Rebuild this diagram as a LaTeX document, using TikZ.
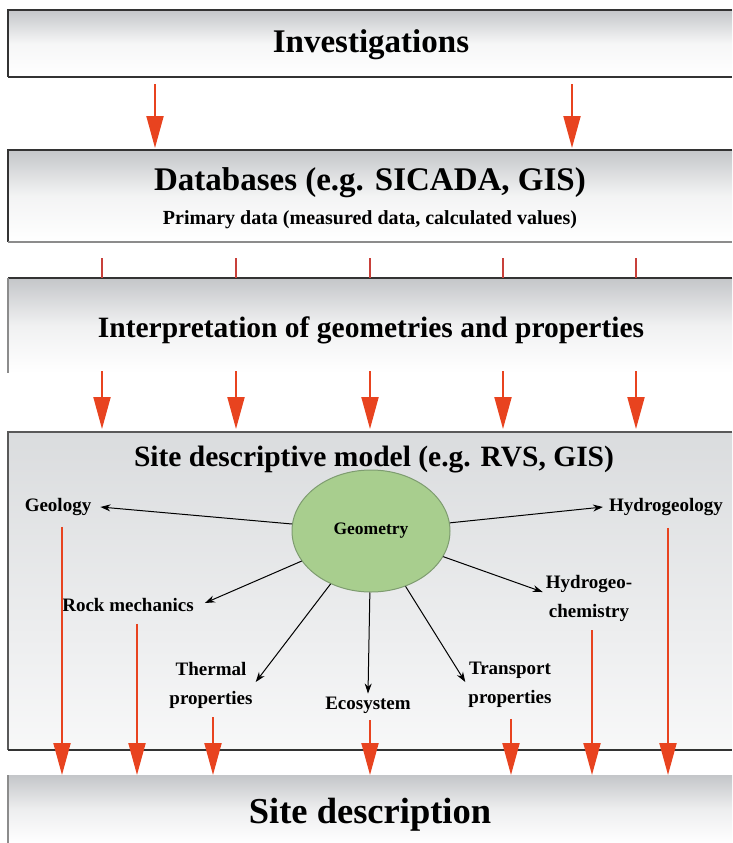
\documentclass[tikz,border=0pt]{standalone}
\usepackage{fontspec}
\setmainfont{Liberation Serif}
\usetikzlibrary{arrows.meta,shapes.geometric}
\definecolor{arrred}{HTML}{E8431F}
\definecolor{tickred}{HTML}{C8403A}
\definecolor{bandgray}{HTML}{C4C6C9}
\definecolor{lightband}{HTML}{DADCDE}
\definecolor{ellfill}{HTML}{A8CE8E}
\definecolor{elldraw}{HTML}{7E9C70}
\begin{document}
\begin{tikzpicture}[x=1pt,y=-1pt,
  band/.style={inner sep=0pt, outer sep=0pt, anchor=north west, minimum width=724pt},
  bigtitle/.style={font=\bfseries\fontsize{33}{36}\selectfont, inner sep=0pt},
  midtitle/.style={font=\bfseries\fontsize{29.5}{32}\selectfont, inner sep=0pt},
  subtitle/.style={font=\bfseries\fontsize{20}{22}\selectfont, inner sep=0pt},
  lab/.style={font=\bfseries\fontsize{19}{29}\selectfont, inner sep=3pt, align=center},
  redarr/.style={draw=arrred, line width=2pt, -{Triangle[length=32pt,width=17pt]}},
  redtick/.style={draw=tickred, line width=2pt},
  blkarr/.style={draw=black, line width=1pt, -{Stealth[length=10pt,width=7pt]}},
  border/.style={draw=black!80, line width=2pt},
  midborder/.style={draw=black!65, line width=1.8pt},
  softborder/.style={draw=black!45, line width=1.5pt},
]
\useasboundingbox (0,0) rectangle (732,843);
\fill[white] (0,0) rectangle (732,843);

% bands
\node[band, minimum height=67pt, top color=bandgray, bottom color=white, middle color=white!85!bandgray] (box1) at (8,10) {};
\node[band, minimum height=92pt, top color=bandgray, bottom color=white, middle color=white!80!bandgray] (box2) at (8,150) {};
\node[band, minimum height=95pt, top color=bandgray, bottom color=white, middle color=white!75!bandgray] (box3) at (8,278) {};
\node[band, minimum height=318pt, top color=lightband, bottom color=white!80!lightband] (box4) at (8,432) {};
\node[band, minimum height=68pt, top color=bandgray, bottom color=white, middle color=white!70!bandgray] (box5) at (8,775) {};

% borders
\draw[border] (box1.north east) -- (box1.north west) -- (box1.south west);
\draw[border] (box1.south west) -- (box1.south east);
\draw[border] (box2.north east) -- (box2.north west) -- (box2.south west);
\draw[softborder] (box2.south west) -- (box2.south east);
\draw[border] (box3.north east) -- (box3.north west);
\draw[softborder] (box3.north west) -- (box3.south west);
\draw[midborder] (box4.north east) -- (box4.north west) -- (box4.south west);
\draw[border] (box4.south west) -- (box4.south east);
\draw[softborder] (box5.north west) -- (box5.south west);

% titles
\node[bigtitle] (inv) at (371,45) {Investigations};
\node[bigtitle] (db) at (370,183) {Databases (e.g. SICADA, GIS)};
\node[subtitle] (prim) at (370,220) {Primary data (measured data, calculated values)};
\node[midtitle] (interp) at (371,330) {Interpretation of geometries and properties};
\node[midtitle] (sdm) at (374,460) {Site descriptive model (e.g. RVS, GIS)};
\node[font=\bfseries\fontsize{36.5}{40}\selectfont, inner sep=0pt] (sd) at (370,815) {Site description};

% arrows investigations -> databases
\foreach \x in {155,572}
  \draw[redarr, shorten <=7pt, shorten >=2pt] (\x,0 |- box1.south) -- (\x,0 |- box2.north);

% ticks databases -> interpretation
\foreach \x in {102,236,370,503,636}
  \draw[redtick, shorten <=16pt] (\x,0 |- box2.south) -- (\x,0 |- box3.north);

% arrows interpretation -> site descriptive model
\foreach \x in {102,236,370,503,636}
  \draw[redarr, shorten <=-2pt, shorten >=3pt] (\x,0 |- box3.south) -- (\x,0 |- box4.north);

% ellipse and labels
\node[ellipse, fill=ellfill, draw=elldraw, line width=1pt, minimum width=158pt, minimum height=122pt,
      font=\bfseries\fontsize{17.5}{19}\selectfont] (geom) at (371,531) {Geometry};

\node[lab] (geol) at (58,507) {Geology};
\node[lab] (hydro) at (666,507) {Hydrogeology};
\node[lab] (rock) at (128,605) {Rock mechanics};
\node[lab] (hchem) at (589,598) {Hydrogeo-\\chemistry};
\node[lab] (therm) at (211,685) {Thermal\\properties};
\node[lab] (eco) at (368,705) {Ecosystem};
\node[lab] (trans) at (510,685) {Transport\\properties};

% black arrows from geometry
\draw[blkarr] (geom) -- ([xshift=6pt]geol.east);
\draw[blkarr] (geom) -- ([xshift=-3pt]hydro.west);
\draw[blkarr] (geom) -- ([xshift=8pt,yshift=2pt]rock.east);
\draw[blkarr] (geom) -- ([yshift=6pt]hchem.west);
\draw[blkarr] (geom) -- ([yshift=3pt]therm.east);
\draw[blkarr] (geom) -- (eco.north);
\draw[blkarr] (geom) -- ([yshift=3pt]trans.west);

% red arrows to site description
\draw[redarr] ([xshift=4pt,yshift=-8pt]geol.south) coordinate (r1) -- (r1 |- box5.north);
\draw[redarr] ([xshift=9pt,yshift=-9pt]rock.south) coordinate (r2) -- (r2 |- box5.north);
\draw[redarr] ([xshift=2pt,yshift=-6pt]therm.south) coordinate (r3) -- (r3 |- box5.north);
\draw[redarr] ([xshift=2pt,yshift=-4pt]eco.south) coordinate (r4) -- (r4 |- box5.north);
\draw[redarr] ([xshift=1pt,yshift=-8pt]trans.south) coordinate (r5) -- (r5 |- box5.north);
\draw[redarr] ([xshift=3pt,yshift=-6pt]hchem.south) coordinate (r6) -- (r6 |- box5.north);
\draw[redarr] ([xshift=2pt,yshift=-9pt]hydro.south) coordinate (r7) -- (r7 |- box5.north);
\end{tikzpicture}
\end{document}
